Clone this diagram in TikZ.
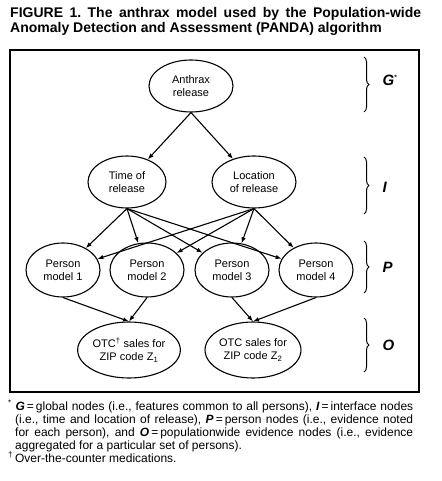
\documentclass[tikz,border=0pt]{standalone}
\usepackage{fontspec}
\setmainfont{Liberation Sans}
\usetikzlibrary{shapes.geometric,arrows.meta,decorations.pathreplacing}
\begin{document}
\frenchspacing
\begin{tikzpicture}[x=1pt,y=-1pt,
  ell/.style={draw,ellipse,line width=1.1pt,inner sep=0pt,align=center,
     font=\fontsize{11}{13}\selectfont,minimum height=52pt},
  arr/.style={line width=1.1pt,-{Latex[length=6pt,width=4.5pt]}},
  brc/.style={line width=1pt,decorate,decoration={brace,amplitude=5pt}},
  lvl/.style={font=\fontsize{15}{15}\selectfont\bfseries\itshape,anchor=west},
  ttl/.style={font=\fontsize{14}{16}\selectfont\bfseries,anchor=base west,inner sep=0pt},
  fn/.style={font=\fontsize{12}{12}\selectfont,anchor=base west,inner sep=0pt}]
\useasboundingbox (0,0) rectangle (441,481);
% title
\node[ttl] (t1) at (10,18) {\makebox[411pt][s]{FIGURE 1. The anthrax model used by the Population-wide}};
\node[ttl] (t2) at (10,33) {Anomaly Detection and Assessment (PANDA) algorithm};
% frame
\draw[line width=1.4pt] (10,50) rectangle (419,392);
% nodes
\node[ell,minimum width=84pt] (a) at (191,86) {Anthrax\\release};
\node[ell,minimum width=78pt] (t) at (127,182) {Time of\\release};
\node[ell,minimum width=84pt] (l) at (254,182) {Location\\of release};
\node[ell,minimum width=74pt,minimum height=54pt] (p1) at (63,270) {Person\\model 1};
\node[ell,minimum width=74pt,minimum height=54pt] (p2) at (147,270) {Person\\model 2};
\node[ell,minimum width=74pt,minimum height=54pt] (p3) at (232,270) {Person\\model 3};
\node[ell,minimum width=74pt,minimum height=54pt] (p4) at (316,270) {Person\\model 4};
\node[ell,minimum width=82pt,minimum height=56pt] (z1) at (129,350) {OTC\textsuperscript{†} sales for\\ZIP code Z\textsubscript{1}};
\node[ell,minimum width=82pt,minimum height=56pt] (z2) at (253,350) {OTC sales for\\ZIP code Z\textsubscript{2}};
% connectors
\draw[arr] (a.south) -- (t);
\draw[arr] (a.south) -- (l);
\foreach \p in {p1,p2,p3,p4} {
  \draw[arr] (t.south) -- (\p);
  \draw[arr] (l.south) -- (\p);
}
\draw[arr] (p1.south) -- (z1.north);
\draw[arr] (p2.south) -- (z1.north);
\draw[arr] (p3.south) -- (z2.north);
\draw[arr] (p4.south) -- (z2.north);
% braces
\coordinate (g0) at (364,57);  \coordinate (g1) at (364,112);
\coordinate (i0) at (364,157); \coordinate (i1) at (364,214);
\coordinate (q0) at (364,241); \coordinate (q1) at (364,293);
\coordinate (o0) at (364,318); \coordinate (o1) at (364,372);
\draw[brc] (g0) -- (g1);
\draw[brc] (i0) -- (i1);
\draw[brc] (q0) -- (q1);
\draw[brc] (o0) -- (o1);
\node[lvl] (lg) at (379,80) {G\textsuperscript{\normalfont\footnotesize*}};
\node[lvl] (li) at (379,187) {I};
\node[lvl] (lp) at (379,267) {P};
\node[lvl] (lo) at (379,345) {O};
% footnotes
\node[fn] (f1) at (8,410) {\makebox[405pt][s]{\textsuperscript{*} \textbf{\textit{G}}\,=\,global nodes (i.e., features common to all persons), \textbf{\textit{I}}\,=\,interface nodes}};
\node[fn] (f2) at (15,423) {\makebox[398pt][s]{(i.e., time and location of release), \textbf{\textit{P}}\,=\,person nodes (i.e., evidence noted}};
\node[fn] (f3) at (15,436) {\makebox[398pt][s]{for each person), and \textbf{\textit{O}}\,=\,populationwide evidence nodes (i.e., evidence}};
\node[fn] (f4) at (15,449) {aggregated for a particular set of persons).};
\node[fn] (f5) at (8,462) {\textsuperscript{†}\,Over-the-counter medications.};
\end{tikzpicture}
\end{document}
